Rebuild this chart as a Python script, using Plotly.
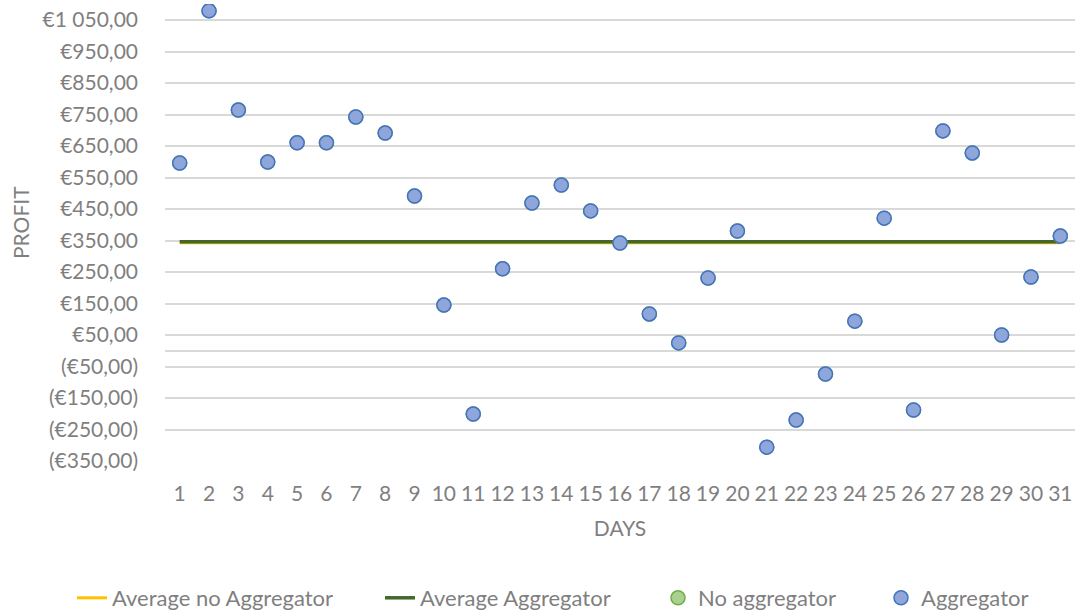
import plotly.graph_objects as go

days = list(range(1, 32))
aggregator = [596, 1079, 764, 599, 660, 660, 742, 691, 491, 145, -201, 260, 469, 526, 444,
              342, 117, 25, 231, 380, -306, -220, -74, 94, 421, -188, 698, 628, 50, 234, 364]
no_aggregator = aggregator[:]  # hidden beneath the aggregator markers
avg_aggregator = [346] * 31
avg_no_aggregator = [343] * 31

tick_vals = [-350, -250, -150, -50, 50, 150, 250, 350, 450, 550, 650, 750, 850, 950, 1050]
tick_text = ["(€350,00)", "(€250,00)", "(€150,00)", "(€50,00)", "€50,00", "€150,00", "€250,00",
             "€350,00", "€450,00", "€550,00", "€650,00", "€750,00", "€850,00", "€950,00", "€1 050,00"]

FONT = "Lato"
GREY = "#7f7f7f"
W, H = 1077, 613

fig = go.Figure()
fig.add_trace(go.Scatter(x=days, y=avg_no_aggregator, mode="lines", name="Average no Aggregator",
                         line=dict(color="#FFC000", width=3), legend="legend"))
fig.add_trace(go.Scatter(x=days, y=avg_aggregator, mode="lines", name="Average Aggregator",
                         line=dict(color="#43682B", width=3.5), legend="legend2"))
fig.add_trace(go.Scatter(x=days, y=no_aggregator, mode="markers", name="No aggregator",
                         marker=dict(size=14, color="#A9D18E", line=dict(color="#70AD47", width=1.5)),
                         legend="legend3"))
fig.add_trace(go.Scatter(x=days, y=aggregator, mode="markers", name="Aggregator",
                         marker=dict(size=14, color="#8EA6DA", line=dict(color="#4472C4", width=1.5)),
                         legend="legend4"))

def leg(text_x):
    return dict(orientation="h", xref="container", yref="container",
                x=(text_x - 40) / W, xanchor="left", y=(H - 598) / H, yanchor="middle",
                font=dict(family=FONT, size=22, color=GREY), bgcolor="rgba(0,0,0,0)")

fig.update_layout(
    width=W, height=H,
    margin=dict(l=165, r=2, t=4, b=152, autoexpand=False),
    plot_bgcolor="white", paper_bgcolor="white",
    font=dict(family=FONT, size=21, color=GREY),
    showlegend=True,
    legend=leg(112), legend2=leg(420), legend3=leg(698), legend4=leg(921),
    xaxis=dict(range=[0.5, 31.5], tickvals=days, ticktext=[str(d) for d in days],
               showgrid=False, zeroline=False, showline=False, ticks="",
               ticklabelstandoff=18, tickfont=dict(size=21, color=GREY), automargin=False,
               title=dict(text="DAYS", font=dict(size=21, color=GREY), standoff=17)),
    yaxis=dict(range=[-350, 1100.8], tickvals=tick_vals, ticktext=tick_text,
               showgrid=True, gridcolor="#d9d9d9", gridwidth=1.5,
               zeroline=True, zerolinecolor="#d9d9d9", zerolinewidth=1.5,
               showline=False, ticks="", ticklabelstandoff=26, automargin=False,
               tickfont=dict(size=21, color=GREY)),
    annotations=[dict(text="PROFIT", x=(20 - 165) / (W - 165 - 2), xref="paper",
                      y=(461 - 223) / 457, yref="paper",
                      showarrow=False, textangle=-90, font=dict(size=21, color=GREY),
                      xanchor="center", yanchor="middle")],
)

fig.write_html("out.html", config={"displayModeBar": False},
               post_script="document.body.style.margin='0';")
